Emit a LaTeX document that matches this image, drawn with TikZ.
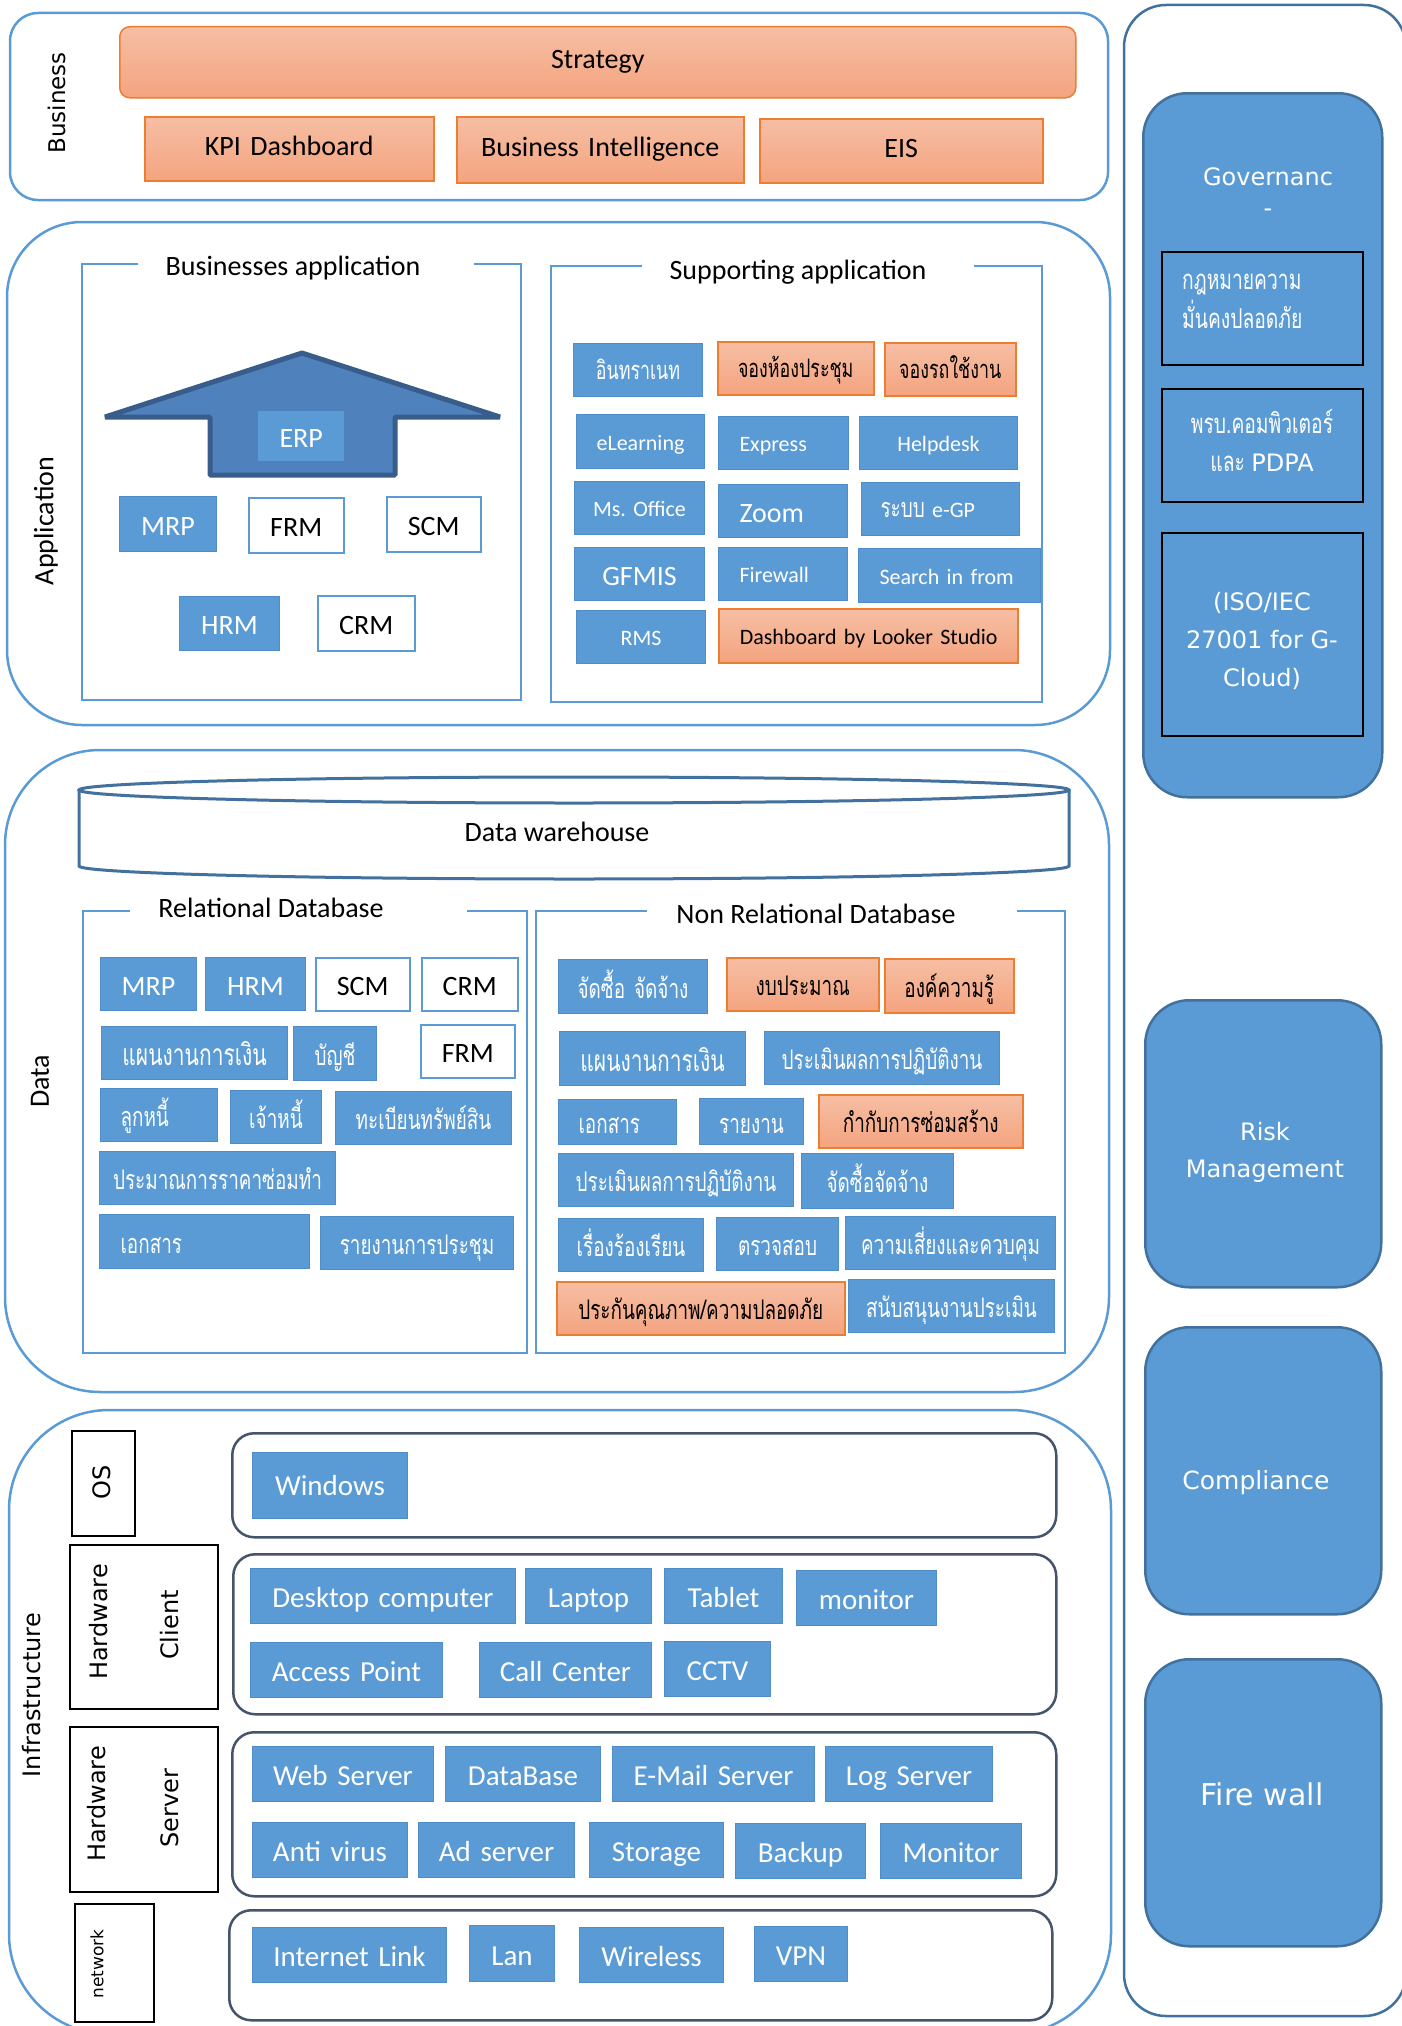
\documentclass[tikz,border=0pt]{standalone}
\usepackage{fontspec}
\setmainfont{Carlito}
\newfontfamily\thaifont[Script=Thai, FakeStretch=0.7]{Loma}
\newfontfamily\dvsans{DejaVu Sans}
\frenchspacing

\definecolor{lblue}{HTML}{5B9BD5}
\definecolor{ibox}{HTML}{5B9BD5}
\definecolor{iboxedge}{HTML}{4F8DC9}
\definecolor{dblue}{HTML}{41719C}
\definecolor{arrowfill}{HTML}{4F81BD}
\definecolor{arrowedge}{HTML}{385D8A}
\definecolor{orTop}{HTML}{F6BEA4}
\definecolor{orBot}{HTML}{F4A47F}
\definecolor{orEdge}{HTML}{ED7D31}
\definecolor{slate}{HTML}{44546A}

% box given by its top-left and bottom-right corners (y grows downwards)
\newcommand\mkbox[7]{%
  \pgfmathsetmacro\boxw{#5-#3}%
  \pgfmathsetmacro\boxh{#6-#4}%
  \node[anchor=north west, inner sep=0pt, minimum width=\boxw pt,
        minimum height=\boxh pt, text width=\boxw pt, align=center, #1]
        (#2) at (#3,#4) {#7};}

\tikzset{
  ftitle/.style={font=\fontsize{28}{33}\selectfont, text height=19pt, text depth=6pt},
  fbig/.style={font=\fontsize{28}{33}\selectfont, text height=26pt, text depth=4pt},
  finf/.style={font=\fontsize{29}{34}\selectfont, text height=27pt, text depth=4pt},
  fmid/.style={font=\fontsize{22}{26}\selectfont, text height=21pt, text depth=4pt},
  fthai/.style={font=\thaifont\fontsize{27}{31}\selectfont, text height=28pt, text depth=5pt},
  fthaiL/.style={font=\thaifont\fontsize{30}{34}\selectfont, text height=30pt, text depth=5pt},
  fthaiS/.style={font=\thaifont\fontsize{25.5}{30}\selectfont, text height=24pt, text depth=5pt},
  fvert/.style={font=\dvsans\fontsize{24}{28}\selectfont, rotate=90, inner sep=0pt},
  fvertc/.style={font=\fontsize{28}{32}\selectfont, rotate=90, inner sep=0pt},
  bluebox/.style={fill=ibox, draw=iboxedge, line width=1pt, text=white},
  whitebox/.style={fill=white, draw=lblue, line width=1.5pt, text=black},
  orangebox/.style={top color=orTop, bottom color=orBot, draw=orEdge, line width=1.5pt, text=black},
  panelline/.style={draw=lblue, line width=2.5pt},
  frameline/.style={draw=lblue, line width=2.5pt},
  rowbox/.style={draw=slate, line width=2.5pt, rounded corners=22pt, fill=white},
  labbox/.style={draw=black, line width=1.5pt, fill=white},
  govbox/.style={fill=ibox, draw=dblue, line width=2.5pt, rounded corners=44pt},
  govsub/.style={fill=ibox, draw=black, line width=1.5pt},
  govtext/.style={font=\dvsans\fontsize{24}{38}\selectfont, text=white, align=center, inner sep=0pt},
}

\begin{document}
\begin{tikzpicture}[x=1pt, y=-1pt]
\useasboundingbox (0,0) rectangle (1402,2026);
\clip (0,0) rectangle (1402,2026);

%% ---------------- Business layer ----------------
\draw[panelline, rounded corners=28pt] (10,13) rectangle (1108,200);
\node[fvert, font=\dvsans\fontsize{23}{27}\selectfont] (lbusiness) at (57,103) {Business};
\mkbox{orangebox, rounded corners=10pt, ftitle}{strategy}{119}{26}{1075}{97}{Strategy}
\mkbox{orangebox, ftitle}{kpi}{144}{116}{433}{180}{KPI Dashboard}
\mkbox{orangebox, ftitle}{bi}{456}{116}{743}{182}{Business Intelligence}
\mkbox{orangebox, ftitle}{eis}{759}{118}{1042}{182}{EIS}

%% ---------------- Application layer ----------------
\draw[panelline, rounded corners=75pt] (7,222) rectangle (1110,725);
\node[fvertc] (lapplication) at (46,521) {Application};

% businesses application
\draw[frameline] (138,264) -- (82,264) -- (82,700) -- (521,700) -- (521,264) -- (474,264);
\node[ftitle] (tbusapp) at (293,269) {Businesses application};
\draw[fill=arrowfill, draw=arrowedge, line width=5pt, line join=bevel]
  (105,417) -- (302,353) -- (500,417) -- (395,417) -- (395,475) -- (210,475) -- (210,417) -- cycle;
\mkbox{fill=ibox, text=white, fbig}{erp}{258}{411}{344}{461}{ERP}
\mkbox{bluebox, fbig}{amrp}{119}{496}{216}{551}{MRP}
\mkbox{whitebox, fbig}{afrm}{248}{497}{343}{552}{FRM}
\mkbox{whitebox, fbig}{ascm}{386}{496}{480}{551}{SCM}
\mkbox{bluebox, fbig}{ahrm}{179}{596}{279}{650}{HRM}
\mkbox{whitebox, fbig}{acrm}{317}{595}{414}{650}{CRM}

% supporting application
\draw[frameline] (642,266) -- (551,266) -- (551,702) -- (1042,702) -- (1042,266) -- (974,266);
\node[ftitle] (tsupapp) at (798,273) {Supporting application};
\mkbox{bluebox, fthaiS}{intra}{573}{343}{702}{396}{อินทราเนท}
\mkbox{orangebox, fthaiS}{meetroom}{717}{341}{873}{394}{จองห้องประชุม}
\mkbox{orangebox, fthaiS}{carbook}{884}{342}{1015}{395}{จองรถใช้งาน}
\mkbox{bluebox, fmid}{elearn}{576}{414}{704}{468}{eLearning}
\mkbox{bluebox, fmid, align=left}{express}{718}{416}{848}{469}{\hspace*{21pt}Express}
\mkbox{bluebox, fmid}{helpdesk}{859}{416}{1017}{469}{Helpdesk}
\mkbox{bluebox, fmid}{msoffice}{574}{481}{704}{534}{Ms. Office}
\mkbox{bluebox, fbig, align=left}{zoomapp}{718}{484}{847}{537}{\hspace*{21pt}Zoom}
\mkbox{bluebox, fmid, align=left}{egp}{861}{482}{1019}{535}{\hspace*{19pt}{\thaifont\fontsize{27}{30}\selectfont ระบบ} e-GP}
\mkbox{bluebox, fbig}{gfmis}{574}{547}{704}{600}{GFMIS}
\mkbox{bluebox, fmid, align=left}{fwapp}{718}{547}{847}{600}{\hspace*{21pt}Firewall}
\mkbox{bluebox, fmid, align=left}{searchapp}{858}{548}{1040}{602}{\hspace*{21pt}Search in from}
\mkbox{bluebox, fmid}{rms}{576}{610}{705}{663}{RMS}
\mkbox{orangebox, fmid, align=left}{looker}{718}{608}{1017}{662}{\hspace*{21pt}Dashboard by Looker Studio}

%% ---------------- Data layer ----------------
\draw[panelline, rounded corners=95pt] (5,750) rectangle (1109,1392);
\node[fvertc] (ldata) at (40,1081) {Data};

% data warehouse cylinder
\draw[draw=dblue, line width=3pt, fill=white]
  (79,790) -- (79,866) arc[start angle=180, end angle=360, x radius=495pt, y radius=13pt] -- (1069,790);
\draw[draw=dblue, line width=3pt, fill=white] (574,790) ellipse [x radius=495pt, y radius=13pt];
\node[ftitle] (dwh) at (557,835) {Data warehouse};

% relational database
\draw[frameline] (130,911) -- (83,911) -- (83,1353) -- (527,1353) -- (527,911) -- (467,911);
\node[ftitle] (trel) at (271,911) {Relational Database};
\mkbox{bluebox, fbig}{rmrp}{100}{957}{196}{1010}{MRP}
\mkbox{bluebox, fbig}{rhrm}{205}{957}{305}{1010}{HRM}
\mkbox{whitebox, fbig}{rscm}{315}{957}{409}{1010}{SCM}
\mkbox{whitebox, fbig}{rcrm}{421}{957}{517}{1010}{CRM}
\mkbox{bluebox, fthaiL}{rplan}{101}{1026}{287}{1079}{แผนงานการเงิน}
\mkbox{bluebox, fthai}{racct}{293}{1026}{376}{1080}{บัญชี}
\mkbox{whitebox, fbig}{rfrm}{420}{1024}{514}{1077}{FRM}
\mkbox{bluebox, fthai, align=left}{rdebt}{100}{1088}{217}{1141}{\hspace*{20pt}ลูกหนี้}
\mkbox{bluebox, fthai}{rcred}{230}{1090}{321}{1143}{เจ้าหนี้}
\mkbox{bluebox, fthai}{rasset}{335}{1091}{511}{1144}{ทะเบียนทรัพย์สิน}
\mkbox{bluebox, fthai}{rrepair}{99}{1151}{335}{1204}{ประมาณการราคาซ่อมทำ}
\mkbox{bluebox, fthai, align=left}{rdoc}{99}{1214}{309}{1268}{\hspace*{21pt}เอกสาร}
\mkbox{bluebox, fthai}{rmeet}{320}{1216}{513}{1269}{รายงานการประชุม}

% non relational database
\draw[frameline] (647,911) -- (536,911) -- (536,1353) -- (1065,1353) -- (1065,911) -- (1017,911);
\node[ftitle] (tnonrel) at (816,917) {Non Relational Database};
\mkbox{bluebox, fthai}{nproc}{558}{959}{707}{1013}{จัดซื้อ จัดจ้าง}
\mkbox{orangebox, fthai}{nbudget}{726}{957}{878}{1010}{งบประมาณ}
\mkbox{orangebox, fthai}{nknow}{884}{958}{1013}{1012}{องค์ความรู้}
\mkbox{bluebox, fthaiL}{nplan}{559}{1031}{745}{1085}{แผนงานการเงิน}
\mkbox{bluebox, fthai}{neval}{764}{1031}{999}{1084}{ประเมินผลการปฏิบัติงาน}
\mkbox{bluebox, fthai, align=left}{ndoc}{558}{1099}{676}{1144}{\hspace*{20pt}เอกสาร}
\mkbox{bluebox, fthai}{nrep}{699}{1098}{803}{1144}{รายงาน}
\mkbox{orangebox, fthai}{nsuper}{818}{1094}{1022}{1147}{กำกับการซ่อมสร้าง}
\mkbox{bluebox, fthai}{nevaltwo}{558}{1153}{793}{1206}{ประเมินผลการปฏิบัติงาน}
\mkbox{bluebox, fthai}{nproctwo}{801}{1153}{953}{1208}{จัดซื้อจัดจ้าง}
\mkbox{bluebox, fthai}{ncompl}{558}{1218}{703}{1271}{เรื่องร้องเรียน}
\mkbox{bluebox, fthai}{naudit}{716}{1217}{838}{1270}{ตรวจสอบ}
\mkbox{bluebox, fthai}{nrisk}{845}{1216}{1055}{1269}{ความเสี่ยงและควบคุม}
\mkbox{orangebox, fthai}{nqa}{556}{1281}{844}{1334}{ประกันคุณภาพ/ความปลอดภัย}
\mkbox{bluebox, fthai}{nsupp}{848}{1279}{1054}{1332}{สนับสนุนงานประเมิน}

%% ---------------- Infrastructure layer ----------------
\draw[panelline, rounded corners=100pt] (9,1410) rectangle (1111,2034);
\node[fvert] (linfra) at (32,1695) {Infrastructure};

% side labels
\mkbox{labbox}{oslab}{71}{1430}{134}{1535}{}
\node[fvert] (tos) at (102,1482) {OS};
\mkbox{labbox}{clientlab}{69}{1544}{217}{1708}{}
\node[fvert] (thwc) at (99,1622) {Hardware};
\node[fvert] (tclient) at (170,1625) {Client};
\mkbox{labbox}{serverlab}{69}{1726}{217}{1891}{}
\node[fvert] (thws) at (97,1804) {Hardware};
\node[fvert] (tserver) at (170,1808) {Server};
\mkbox{labbox}{netlab}{74}{1903}{153}{2021}{}
\node[fvert, font=\dvsans\fontsize{17}{20}\selectfont] (tnet) at (97,1964) {network};

% rows
\mkbox{rowbox}{osrow}{231}{1432}{1055}{1536}{}
\mkbox{rowbox}{clientrow}{232}{1553}{1055}{1713}{}
\mkbox{rowbox}{serverrow}{231}{1731}{1055}{1895}{}
\mkbox{rowbox}{netrow}{228}{1909}{1051}{2019}{}

% OS
\mkbox{bluebox, finf, text height=24pt}{windows}{252}{1452}{407}{1518}{Windows}
% client hardware
\mkbox{bluebox, finf}{desktop}{250}{1568}{515}{1623}{Desktop computer}
\mkbox{bluebox, finf}{laptop}{525}{1568}{651}{1623}{Laptop}
\mkbox{bluebox, finf}{tablet}{664}{1568}{782}{1623}{Tablet}
\mkbox{bluebox, finf}{monitorc}{796}{1570}{936}{1625}{monitor}
\mkbox{bluebox, finf}{accesspt}{250}{1642}{442}{1697}{Access Point}
\mkbox{bluebox, finf}{callctr}{479}{1642}{651}{1697}{Call Center}
\mkbox{bluebox, finf}{cctv}{664}{1641}{770}{1696}{CCTV}
% server hardware
\mkbox{bluebox, finf}{websrv}{252}{1746}{433}{1801}{Web Server}
\mkbox{bluebox, finf}{dbsrv}{445}{1746}{600}{1801}{DataBase}
\mkbox{bluebox, finf}{mailsrv}{612}{1746}{814}{1801}{E-Mail Server}
\mkbox{bluebox, finf}{logsrv}{825}{1746}{992}{1801}{Log Server}
\mkbox{bluebox, finf}{antivirus}{252}{1822}{407}{1877}{Anti virus}
\mkbox{bluebox, finf}{adsrv}{418}{1822}{574}{1877}{Ad server}
\mkbox{bluebox, finf}{storage}{589}{1822}{723}{1877}{Storage}
\mkbox{bluebox, finf}{backup}{735}{1823}{865}{1878}{Backup}
\mkbox{bluebox, finf}{monitors}{880}{1823}{1021}{1878}{Monitor}
% network
\mkbox{bluebox, finf}{inet}{252}{1927}{446}{1982}{Internet Link}
\mkbox{bluebox, finf}{lan}{469}{1925}{554}{1981}{Lan}
\mkbox{bluebox, finf}{wireless}{579}{1927}{723}{1982}{Wireless}
\mkbox{bluebox, finf}{vpn}{754}{1926}{847}{1981}{VPN}

%% ---------------- Governance column ----------------
\draw[draw=dblue, line width=2.5pt, rounded corners=42pt] (1124,5) rectangle (1406,2016);

\mkbox{govbox}{govern}{1142}{92}{1381}{796}{}
\node[govtext, anchor=base] (tgov) at (1268,185) {Governanc};
\node[govtext, anchor=base] (tgovdash) at (1268,216) {-};
\mkbox{govsub}{lawbox}{1161}{251}{1362}{364}{}
\node[govtext, font=\thaifont\fontsize{27.5}{39}\selectfont, align=left, anchor=west] (tlaw) at (1182,301)
  {กฎหมายความ\\มั่นคงปลอดภัย};
\mkbox{govsub}{actbox}{1161}{388}{1362}{501}{}
\node[govtext, font=\thaifont\fontsize{27.5}{38}\selectfont] (tact) at (1262,441)
  {พรบ.คอมพิวเตอร์\\และ {\dvsans\fontsize{24}{38}\selectfont PDPA}};
\mkbox{govsub}{isobox}{1161}{532}{1362}{735}{}
\node[govtext] (tiso) at (1262,641) {(ISO/IEC\\27001 for G-\\Cloud)};

\mkbox{govbox}{riskbox}{1144}{999}{1380}{1286}{}
\node[govtext, font=\dvsans\fontsize{24}{37}\selectfont] (trisk) at (1265,1152) {Risk\\Management};
\mkbox{govbox}{complbox}{1144}{1326}{1380}{1613}{}
\node[govtext, font=\dvsans\fontsize{25}{30}\selectfont] (tcompl) at (1256,1483) {Compliance};
\mkbox{govbox}{fwbox}{1144}{1658}{1380}{1945}{}
\node[govtext, font=\dvsans\fontsize{30}{36}\selectfont] (tfw) at (1262,1794) {Fire wall};

\end{tikzpicture}
\end{document}
